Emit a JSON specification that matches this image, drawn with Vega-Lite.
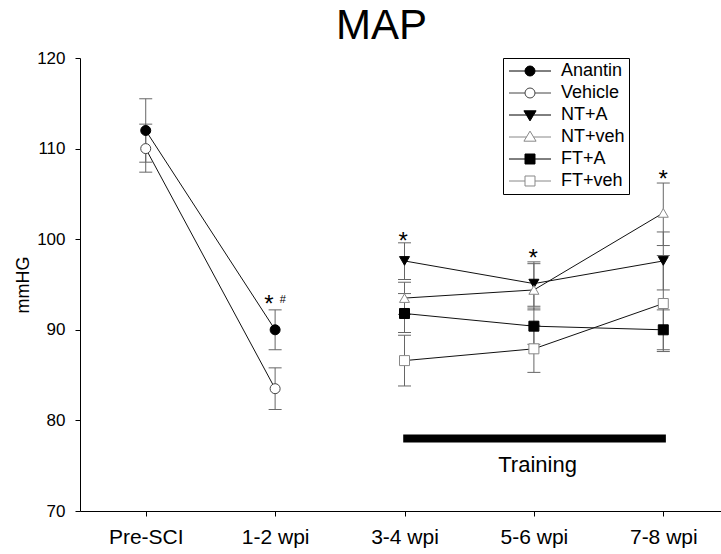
{
  "$schema": "https://vega.github.io/schema/vega-lite/v6.json",
  "width": 641,
  "height": 453,
  "autosize": {"type": "none"},
  "padding": {"left": 80, "top": 58, "right": 0, "bottom": 43},
  "background": "white",
  "title": {"text": "MAP", "font": "Liberation Sans", "fontSize": 42, "fontWeight": "normal", "color": "black", "anchor": "middle", "dx": -19, "offset": 1},
  "datasets": {
    "main": [
      {"series": "Anantin", "t": 1, "mean": 112.0, "lo": 108.5, "hi": 115.5},
      {"series": "Anantin", "t": 2, "mean": 90.0, "lo": 87.8, "hi": 92.2},
      {"series": "Vehicle", "t": 1, "mean": 110.0, "lo": 107.4, "hi": 112.7},
      {"series": "Vehicle", "t": 2, "mean": 83.5, "lo": 81.2, "hi": 85.8},
      {"series": "NT+A", "t": 3, "mean": 97.6, "lo": 95.55, "hi": 99.6},
      {"series": "NT+A", "t": 4, "mean": 95.1, "lo": 92.6, "hi": 97.5},
      {"series": "NT+A", "t": 5, "mean": 97.6, "lo": 94.4, "hi": 100.8},
      {"series": "NT+veh", "t": 3, "mean": 93.5, "lo": 91.7, "hi": 95.25},
      {"series": "NT+veh", "t": 4, "mean": 94.4, "lo": 92.2, "hi": 97.3},
      {"series": "NT+veh", "t": 5, "mean": 102.9, "lo": 99.3, "hi": 106.2},
      {"series": "FT+A", "t": 3, "mean": 91.8, "lo": 89.7, "hi": 94.0},
      {"series": "FT+A", "t": 4, "mean": 90.4, "lo": 88.4, "hi": 92.4},
      {"series": "FT+A", "t": 5, "mean": 90.0, "lo": 87.8, "hi": 92.2},
      {"series": "FT+veh", "t": 3, "mean": 86.6, "lo": 83.8, "hi": 89.4},
      {"series": "FT+veh", "t": 4, "mean": 87.9, "lo": 85.3, "hi": 90.5},
      {"series": "FT+veh", "t": 5, "mean": 92.9, "lo": 87.6, "hi": 98.2}
    ],
    "stars": [
      {"t": 1.953, "y": 91.96, "label": "*"},
      {"t": 2.99, "y": 98.95, "label": "*"},
      {"t": 3.995, "y": 96.99, "label": "*"},
      {"t": 5.0, "y": 105.76, "label": "*"}
    ],
    "hash": [
      {"t": 2.059, "y": 93.01, "label": "#"}
    ],
    "training": [
      {"t": 2.99, "t2": 5.02, "y": 78.0, "ty": 74.3, "tx": 4.028, "label": "Training"}
    ]
  },
  "resolve": {"scale": {"shape": "independent", "fill": "independent", "stroke": "independent"}},
  "layer": [
    {
      "data": {"name": "main"},
      "mark": {"type": "rule", "color": "#666", "strokeWidth": 1},
      "encoding": {
        "x": {"field": "t", "type": "quantitative", "scale": {"domain": [0.492, 5.446], "nice": false, "zero": false}, "axis": {"values": [1, 2, 3, 4, 5], "labelExpr": "['','Pre-SCI','1-2 wpi','3-4 wpi','5-6 wpi','7-8 wpi'][datum.value]", "title": null, "grid": false, "domainColor": "black", "tickColor": "black", "tickSize": 5, "labelFont": "Liberation Sans", "labelFontSize": 21, "labelColor": "black", "labelPadding": 10}},
        "y": {"field": "lo", "type": "quantitative", "scale": {"domain": [70, 120], "nice": false, "zero": false}, "axis": {"values": [70, 80, 90, 100, 110, 120], "title": "mmHG", "grid": false, "domainColor": "black", "tickColor": "black", "tickSize": 5, "labelFont": "Liberation Sans", "labelFontSize": 17, "labelColor": "black", "labelPadding": 10, "titleFont": "Liberation Sans", "titleFontSize": 18, "titleFontWeight": "normal", "titleColor": "black", "titlePadding": 4}},
        "y2": {"field": "hi"}
      }
    },
    {
      "data": {"name": "main"},
      "mark": {"type": "tick", "orient": "horizontal", "color": "#666", "size": 13, "thickness": 1, "opacity": 1},
      "encoding": {
        "x": {"field": "t", "type": "quantitative"},
        "y": {"field": "lo", "type": "quantitative"}
      }
    },
    {
      "data": {"name": "main"},
      "mark": {"type": "tick", "orient": "horizontal", "color": "#666", "size": 13, "thickness": 1, "opacity": 1},
      "encoding": {
        "x": {"field": "t", "type": "quantitative"},
        "y": {"field": "hi", "type": "quantitative"}
      }
    },
    {
      "data": {"name": "main"},
      "mark": {"type": "line", "color": "#111", "strokeWidth": 1},
      "encoding": {
        "x": {"field": "t", "type": "quantitative"},
        "y": {"field": "mean", "type": "quantitative"},
        "detail": {"field": "series"}
      }
    },
    {
      "data": {"name": "main"},
      "mark": {"type": "point", "opacity": 1, "strokeWidth": 1, "size": 100},
      "encoding": {
        "x": {"field": "t", "type": "quantitative"},
        "y": {"field": "mean", "type": "quantitative"},
        "shape": {
          "field": "series", "type": "nominal",
          "scale": {"domain": ["Anantin", "Vehicle", "NT+A", "NT+veh", "FT+A", "FT+veh"], "range": ["circle", "circle", "triangle-down", "triangle-up", "square", "square"]},
          "legend": null
        },
        "fill": {
          "field": "series", "type": "nominal",
          "scale": {"domain": ["Anantin", "Vehicle", "NT+A", "NT+veh", "FT+A", "FT+veh"], "range": ["black", "white", "black", "white", "black", "white"]},
          "legend": null
        },
        "stroke": {
          "field": "series", "type": "nominal",
          "scale": {"domain": ["Anantin", "Vehicle", "NT+A", "NT+veh", "FT+A", "FT+veh"], "range": ["black", "#444", "black", "#888", "black", "#888"]},
          "legend": null
        }
      }
    },
    {
      "data": {"name": "main"},
      "transform": [{"filter": "datum.t > 100"}],
      "mark": {"type": "point", "opacity": 1, "strokeWidth": 1, "size": 196},
      "encoding": {
        "x": {"field": "t", "type": "quantitative"},
        "y": {"field": "mean", "type": "quantitative"},
        "shape": {
          "field": "series", "type": "nominal",
          "scale": {"domain": ["Anantin", "Vehicle", "NT+A", "NT+veh", "FT+A", "FT+veh"], "range": [
            "M-3,0H-0.714M0.714,0H3M0.714,0A0.714,0.714,0,1,1,-0.714,0A0.714,0.714,0,1,1,0.714,0Z",
            "M-3,0H-0.714M0.714,0H3M0.714,0A0.714,0.714,0,1,1,-0.714,0A0.714,0.714,0,1,1,0.714,0Z",
            "M-3,0H-0.51M0.51,0H3M-0.87,-0.6H0.87L0,0.84Z",
            "M-3,0H-0.51M0.51,0H3M-0.87,0.6H0.87L0,-0.84Z",
            "M-3,0H-0.714M0.714,0H3M-0.714,-0.714H0.714V0.714H-0.714Z",
            "M-3,0H-0.714M0.714,0H3M-0.714,-0.714H0.714V0.714H-0.714Z"
          ]},
          "legend": {
            "title": null,
            "orient": "none",
            "legendX": 423,
            "legendY": 0,
            "padding": 4,
            "strokeColor": "black",
            "fillColor": "white",
            "labelFont": "Liberation Sans",
            "labelFontSize": 18,
            "labelColor": "black",
            "labelOffset": 22,
            "symbolOffset": 14,
            "rowPadding": 4,
            "symbolSize": 196,
            "symbolStrokeWidth": 1,
            "symbolOpacity": 1
          }
        },
        "fill": {
          "field": "series", "type": "nominal",
          "scale": {"domain": ["Anantin", "Vehicle", "NT+A", "NT+veh", "FT+A", "FT+veh"], "range": ["black", "white", "black", "white", "black", "white"]},
          "legend": {"title": null}
        },
        "stroke": {
          "field": "series", "type": "nominal",
          "scale": {"domain": ["Anantin", "Vehicle", "NT+A", "NT+veh", "FT+A", "FT+veh"], "range": ["black", "#444", "black", "#888", "black", "#888"]},
          "legend": {"title": null}
        }
      }
    },
    {
      "data": {"name": "training"},
      "mark": {"type": "rule", "color": "black", "strokeWidth": 8, "strokeCap": "butt"},
      "encoding": {
        "x": {"field": "t", "type": "quantitative"},
        "x2": {"field": "t2"},
        "y": {"field": "y", "type": "quantitative"}
      }
    },
    {
      "data": {"name": "training"},
      "mark": {"type": "text", "font": "Liberation Sans", "fontSize": 22, "color": "black", "align": "center", "baseline": "alphabetic"},
      "encoding": {
        "x": {"field": "tx", "type": "quantitative"},
        "y": {"field": "ty", "type": "quantitative"},
        "text": {"field": "label"}
      }
    },
    {
      "data": {"name": "stars"},
      "mark": {"type": "text", "font": "Liberation Sans", "fontSize": 24, "color": "black", "align": "center", "baseline": "alphabetic"},
      "encoding": {
        "x": {"field": "t", "type": "quantitative"},
        "y": {"field": "y", "type": "quantitative"},
        "text": {"field": "label"}
      }
    },
    {
      "data": {"name": "hash"},
      "mark": {"type": "text", "font": "Liberation Sans", "fontSize": 11, "color": "black", "align": "center", "baseline": "alphabetic"},
      "encoding": {
        "x": {"field": "t", "type": "quantitative"},
        "y": {"field": "y", "type": "quantitative"},
        "text": {"field": "label"}
      }
    }
  ],
  "config": {
    "view": {"stroke": null},
    "font": "Liberation Sans"
  }
}
